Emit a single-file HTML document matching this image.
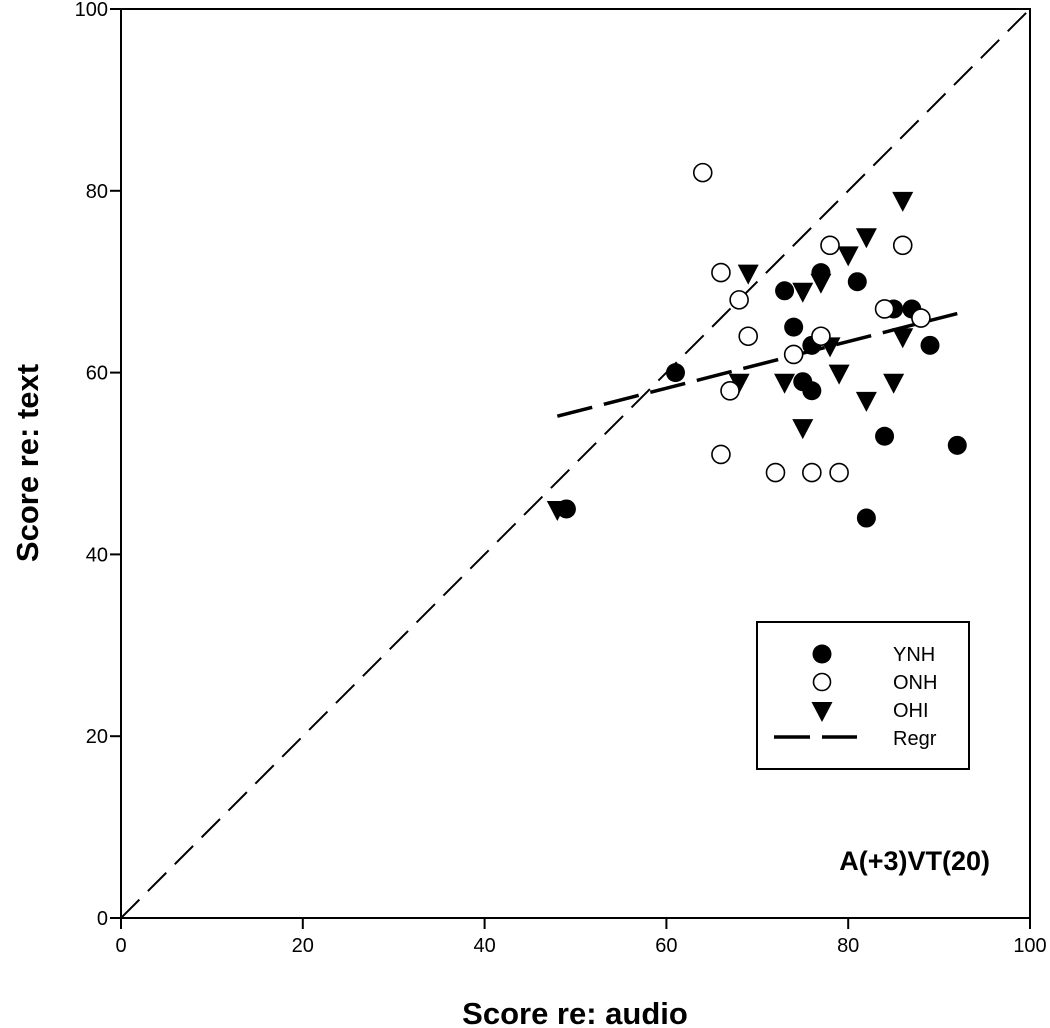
<!DOCTYPE html>
<html><head><meta charset="utf-8"><style>
body{margin:0;background:#fff}
svg{display:block;font-family:"Liberation Sans",Arial,sans-serif}
</style></head><body>
<svg id="chart" width="1050" height="1028" xmlns="http://www.w3.org/2000/svg">
<g id="plot"></g>
</svg>
<script>
const xTicks=[0,20,40,60,80,100];
const yTicks=[0,20,40,60,80,100];
const ynhX=[49,61,73,74,75,76,76,77,81,85,87,89,84,92,82];
const ynhY=[45,60,69,65,59,58,63,71,70,67,67,63,53,52,44];
const onhX=[64,66,68,69,67,66,72,76,79,74,77,78,86,84,88];
const onhY=[82,71,68,64,58,51,49,49,49,62,64,74,74,67,66];
const ohiX=[48,69,68,73,75,75,77,78,79,80,82,82,85,86,86];
const ohiY=[45,71,59,59,69,54,70,63,60,73,75,57,59,64,79];
const regrX=[48,92];
const regrY=[55.2,66.5];
const diagX=[0,100];
const diagY=[0,100];

const X0=121,X1=1030,Y0=918,Y1=9;
const sx=v=>X0+(v-0)/100*(X1-X0);
const sy=v=>Y0-(v-0)/100*(Y0-Y1);
const NS='http://www.w3.org/2000/svg';
const g=document.getElementById('plot');
function mk(tag,attrs,parent){const e=document.createElementNS(NS,tag);for(const k in attrs)e.setAttribute(k,attrs[k]);(parent||g).appendChild(e);return e;}

let frame=mk('rect',{x:X0,y:Y1,width:X1-X0,height:Y0-Y1,fill:'none',stroke:'#000','stroke-width':2});



xTicks.forEach(t=>{
  let l=mk('line',{x1:sx(t),x2:sx(t),y1:Y0,y2:Y0+11,stroke:'#000','stroke-width':2});
  
  
  let tx=mk('text',{x:sx(t),y:Y0+34,'text-anchor':'middle','font-size':20});
  tx.textContent=t;
  
  
});
yTicks.forEach(t=>{
  let l=mk('line',{x1:X0-11,x2:X0,y1:sy(t),y2:sy(t),stroke:'#000','stroke-width':2});
  
  
  let tx=mk('text',{x:X0-13,y:sy(t)+7,'text-anchor':'end','font-size':20});
  tx.textContent=t;
  
  
});

let xt=mk('text',{x:575,y:1024,'text-anchor':'middle','font-size':31,'font-weight':'bold'});
xt.textContent='Score re: audio';


let yt=mk('text',{x:0,y:0,'text-anchor':'middle','font-size':31,'font-weight':'bold',transform:'translate(38,463) rotate(-90)'});
yt.textContent='Score re: text';



let dl=mk('line',{x1:sx(diagX[0]),y1:sy(diagY[0]),x2:sx(diagX[1]),y2:sy(diagY[1]),stroke:'#000','stroke-width':2,'stroke-dasharray':'26 12'});


let rl=mk('line',{x1:sx(regrX[0]),y1:sy(regrY[0]),x2:sx(regrX[1]),y2:sy(regrY[1]),stroke:'#000','stroke-width':3.5,'stroke-dasharray':'36 12'});



function tri(cx,cy,parent){return mk('polygon',{points:`${cx-10.5},${cy-8} ${cx+10.5},${cy-8} ${cx},${cy+12}`,fill:'#000'},parent);}
ohiX.forEach((v,i)=>{let p=tri(sx(v),sy(ohiY[i]));
  
  });
ynhX.forEach((v,i)=>{let c=mk('circle',{cx:sx(v),cy:sy(ynhY[i]),r:9.5,fill:'#000'});
  
  });
onhX.forEach((v,i)=>{let c=mk('circle',{cx:sx(v),cy:sy(onhY[i]),r:9,fill:'#fff',stroke:'#000','stroke-width':1.6});
  
  });

const lg=mk('g',{});


mk('rect',{x:757,y:622,width:212,height:147,fill:'#fff',stroke:'#000','stroke-width':2},lg);
mk('circle',{cx:822,cy:654,r:9.5,fill:'#000'},lg);
mk('circle',{cx:822,cy:682,r:8.5,fill:'#fff',stroke:'#000','stroke-width':1.6},lg);
tri(822,710,lg);
mk('line',{x1:774,y1:737,x2:857,y2:737,stroke:'#000','stroke-width':3.5,'stroke-dasharray':'36 12'},lg);
[['YNH',661],['ONH',689],['OHI',717],['Regr',745]].forEach(([t,y])=>{
  let tx=mk('text',{x:893,y:y,'font-size':20},lg);tx.textContent=t;
  
  
});
let an=mk('text',{x:990,y:870,'text-anchor':'end','font-size':27,'font-weight':'bold'});
an.textContent='A(+3)VT(20)';


</script>
</body></html>
